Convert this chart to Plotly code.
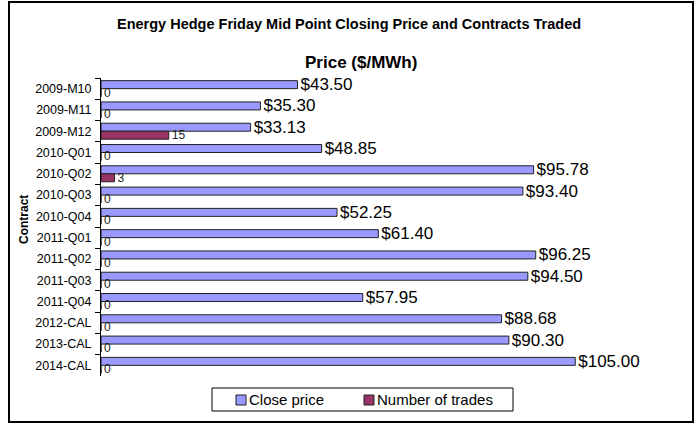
import plotly.graph_objects as go

contracts = ["2009-M10", "2009-M11", "2009-M12", "2010-Q01", "2010-Q02", "2010-Q03",
             "2010-Q04", "2011-Q01", "2011-Q02", "2011-Q03", "2011-Q04", "2012-CAL",
             "2013-CAL", "2014-CAL"]
close_price = [43.50, 35.30, 33.13, 48.85, 95.78, 93.40, 52.25, 61.40, 96.25, 94.50,
               57.95, 88.68, 90.30, 105.00]
num_trades = [0, 0, 15, 0, 3, 0, 0, 0, 0, 0, 0, 0, 0, 0]
series_names = ["Close price", "Number of trades"]
series_colors = ["#9999FF", "#993366"]

FONT = "Liberation Sans, Arial, sans-serif"

W, H = 700, 425
L, R, T, B = 101, 57, 78, 49
pw, ph = W - L - R, H - T - B


def px_x(px):
    return (px - L) / pw


def px_y(py):
    return (H - B - py) / ph


fig = go.Figure()
fig.add_trace(go.Bar(
    y=contracts, x=close_price, orientation="h", name=series_names[0],
    marker=dict(color=series_colors[0], line=dict(color="#222222", width=1)),
    text=close_price, texttemplate="$%{x:.2f}", textposition="outside",
    textfont=dict(family=FONT, size=17, color="#000000"),
    constraintext="none", cliponaxis=False, showlegend=False,
))
fig.add_trace(go.Bar(
    y=contracts, x=num_trades, orientation="h", name=series_names[1],
    marker=dict(color=series_colors[1], line=dict(color="#222222", width=1)),
    text=num_trades, texttemplate="%{x}", textposition="outside",
    textfont=dict(family=FONT, size=12, color="#222222"),
    constraintext="none", cliponaxis=False, showlegend=False,
))

# legend (drawn manually to match the original's compact layout)
legend_shapes = [
    dict(type="rect", xref="paper", yref="paper",
         x0=px_x(212), x1=px_x(513), y0=px_y(411), y1=px_y(388),
         line=dict(color="#000000", width=1), fillcolor="white"),
]
legend_annots = []
for i, (nm, col) in enumerate(zip(series_names, series_colors)):
    sx = [236, 364][i]
    legend_shapes.append(dict(type="rect", xref="paper", yref="paper",
                              x0=px_x(sx), x1=px_x(sx + 10), y0=px_y(405), y1=px_y(395),
                              line=dict(color="#222222", width=1), fillcolor=col))
    legend_annots.append(dict(text=nm, xref="paper", yref="paper",
                              x=px_x(sx + 11), y=px_y(400), xanchor="left", yanchor="middle",
                              showarrow=False, font=dict(size=15, family=FONT, color="#000000")))

fig.update_layout(
    width=W, height=H,
    margin=dict(l=L, r=R, t=T, b=B, autoexpand=False),
    paper_bgcolor="white", plot_bgcolor="white",
    barmode="group", bargap=0.25, bargroupgap=0,
    font=dict(family=FONT, color="#000000"),
    showlegend=False,
    xaxis=dict(range=[0, 120], visible=False, showgrid=False, zeroline=False),
    yaxis=dict(autorange="reversed", type="category", showline=True, linecolor="#000000",
               linewidth=1, ticks="outside", ticklen=5, tickcolor="#000000",
               tickson="boundaries", showgrid=False, automargin=False,
               ticklabelstandoff=6,
               tickfont=dict(size=12.5, family=FONT, color="#000000")),
    annotations=[
        dict(text="<b>Energy Hedge Friday Mid Point Closing Price and Contracts Traded</b>",
             xref="paper", yref="paper", x=px_x(349), y=px_y(24), xanchor="center",
             yanchor="middle", showarrow=False, font=dict(size=14.5, family=FONT)),
        dict(text="<b>Price ($/MWh)</b>", xref="paper", yref="paper",
             x=px_x(361), y=px_y(62), xanchor="center", yanchor="middle",
             showarrow=False, font=dict(size=17, family=FONT)),
        dict(text="<b>Contract</b>", xref="paper", yref="paper",
             x=px_x(24), y=px_y(220), xanchor="center", yanchor="middle",
             textangle=-90, showarrow=False, font=dict(size=12, family=FONT)),
    ] + legend_annots,
    shapes=[
        dict(type="rect", xref="paper", yref="paper",
             x0=px_x(9), x1=px_x(693), y0=px_y(422), y1=px_y(2),
             line=dict(color="#000000", width=2), fillcolor="rgba(0,0,0,0)", layer="below"),
    ] + legend_shapes,
)

fig.write_html("out.html", config={"displayModeBar": False},
               post_script="document.body.style.margin='0px';document.body.style.overflow='hidden';")
